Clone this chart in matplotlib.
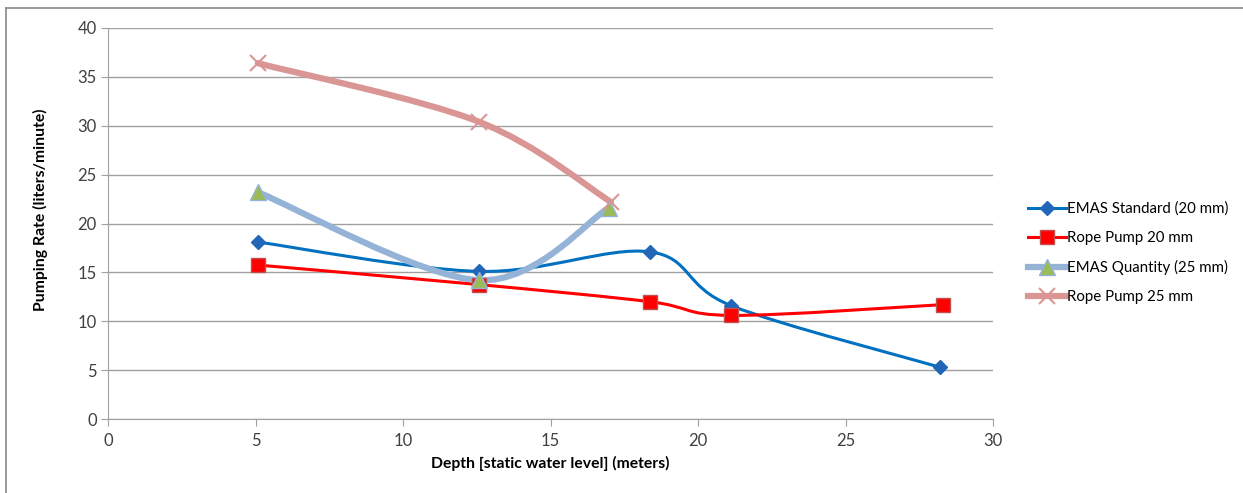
import numpy as np
import matplotlib
matplotlib.use("Agg")
import matplotlib.pyplot as plt
from matplotlib.path import Path
from matplotlib.patches import PathPatch
from matplotlib.lines import Line2D

plt.rcParams['font.family'] = ['Lato', 'DejaVu Sans']

emas_std_x = [5.08, 12.58, 18.37, 21.12, 28.2]
emas_std_y = [18.1, 15.1, 17.1, 11.6, 5.3]
rope20_x = [5.08, 12.58, 18.37, 21.12, 28.3]
rope20_y = [15.75, 13.75, 12.0, 10.6, 11.7]
emas_q_x = [5.08, 12.58, 16.98]
emas_q_y = [23.2, 14.2, 21.6]
rope25_x = [5.08, 12.58, 17.05]
rope25_y = [36.4, 30.4, 22.2]

series = [
    ("EMAS Standard (20 mm)", emas_std_x, emas_std_y, dict(color="#0070C0", lw=2.2),
     dict(marker="D", ms=7, mfc="#2266B8", mec="#2266B8")),
    ("Rope Pump 20 mm", rope20_x, rope20_y, dict(color="#FF0000", lw=2.2),
     dict(marker="s", ms=10, mfc="#FF0000", mec="#C0504D")),
    ("EMAS Quantity (25 mm)", emas_q_x, emas_q_y, dict(color="#95B3D7", lw=4.5),
     dict(marker="^", ms=12, mfc="#9BBB59", mec="#95B3D7")),
    ("Rope Pump 25 mm", rope25_x, rope25_y, dict(color="#D99694", lw=4.5),
     dict(marker="x", ms=12, mfc="none", mec="#D99694", mew=1.5)),
]


def smooth_path(xs, ys):
    pts = np.column_stack([xs, ys]).astype(float)
    n = len(pts)
    verts = [pts[0]]
    codes = [Path.MOVETO]
    for i in range(n - 1):
        p0 = pts[i - 1] if i > 0 else pts[i]
        p1 = pts[i]
        p2 = pts[i + 1]
        p3 = pts[i + 2] if i + 2 < n else pts[i + 1]
        c1 = p1 + (p2 - p0) / 6.0
        c2 = p2 - (p3 - p1) / 6.0
        verts += [c1, c2, p2]
        codes += [Path.CURVE4] * 3
    return Path(verts, codes)


fig = plt.figure(figsize=(12.43, 4.93), dpi=100)
ax = fig.add_axes([108 / 1243, 74 / 493, (993 - 108) / 1243, (419 - 28) / 493])

handles = []
for name, xs, ys, lst, mst in series:
    p = smooth_path(xs, ys)
    ax.add_patch(PathPatch(p, facecolor="none", edgecolor=lst["color"], lw=lst["lw"],
                           capstyle="round", joinstyle="round", zorder=3))
    ax.plot(xs, ys, ls="none", zorder=4, **mst)
    handles.append(Line2D([0], [0], color=lst["color"], lw=lst["lw"], **mst))

ax.set_xlim(0, 30)
ax.set_ylim(0, 40)
ax.set_xticks(range(0, 31, 5))
ax.set_yticks(range(0, 41, 5))
ax.grid(axis="y", color="#A0A0A0", lw=1.0)
ax.set_axisbelow(True)
for s in ["top", "right"]:
    ax.spines[s].set_visible(False)
for s in ["left", "bottom"]:
    ax.spines[s].set_color("#A0A0A0")
ax.tick_params(axis="both", colors="#A0A0A0", labelcolor="#404040", labelsize=12, length=5)
ax.tick_params(axis="y", pad=3)
ax.tick_params(axis="x", pad=5)
ax.set_xlabel("Depth [static water level] (meters)", fontsize=11.3, fontweight="bold", labelpad=5)
ax.set_ylabel("Pumping Rate (liters/minute)", fontsize=11.3, fontweight="bold")
ax.yaxis.set_label_coords(-0.068, 0.535)

fig.legend(handles, [s[0] for s in series], loc="center left",
           bbox_to_anchor=(1022 / 1243, 1 - 253 / 493), frameon=False,
           fontsize=10.8, handlelength=2.5, labelspacing=1.0, handletextpad=0.1,
           borderaxespad=0)

fig.add_artist(Line2D([6 / 1243, 6 / 1243], [0, 1 - 8 / 493], color="#888888", lw=1.2,
                      transform=fig.transFigure))
fig.add_artist(Line2D([6 / 1243, 1], [1 - 8 / 493, 1 - 8 / 493], color="#888888", lw=1.2,
                      transform=fig.transFigure))

fig.savefig("out.png", dpi=100)
